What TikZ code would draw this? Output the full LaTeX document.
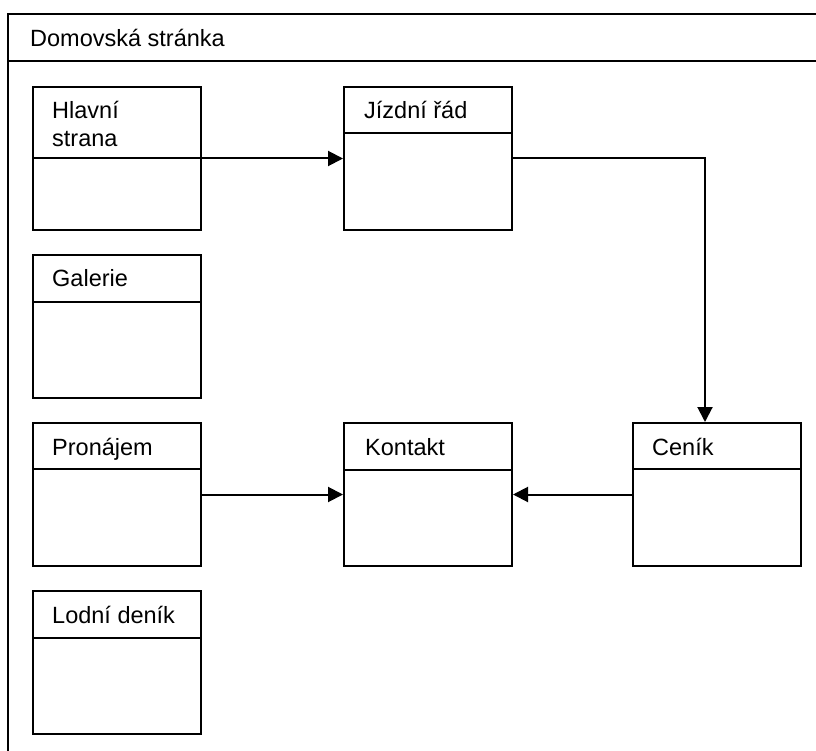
\documentclass[tikz,border=0pt]{standalone}
\usepackage{fontspec}
\setmainfont{Liberation Sans}
\usetikzlibrary{arrows.meta,calc}

\begin{document}
\begin{tikzpicture}[x=1pt, y=-1pt,
        page/.style = {draw, line width=2pt, rectangle, anchor=north west, inner sep=0pt, minimum width=168pt, minimum height=143pt},
        lbl/.style = {anchor=base west, inner sep=0pt, align=left, font=\fontsize{23.5}{28}\selectfont},
        sep/.style = {line width=2pt},
        ar/.style = {line width=2pt, -{Triangle[length=15pt, width=15pt]}}]
        \useasboundingbox (0,0) rectangle (816,751);

        % okno domovske stranky
        \draw[sep] (8,751) |- (816,14);
        \draw[sep] (8,61) -- (816,61);
        \node[lbl] (domov) at (30,47) {Domovská stránka};

        \node[page] (hlavni) at (32,86) {};
        \node[page] (galerie) at (32,254) {};
        \node[page] (pronajem) at (32,422) {};
        \node[page] (lodni) at (32,590) {};
        \node[page] (jizdni) at (343,86) {};
        \node[page] (kontakt) at (343,422) {};
        \node[page] (cenik) at (632,422) {};

        % hlavicky
        \draw[sep] ($(hlavni.north west)+(0,72)$) -- ($(hlavni.north east)+(0,72)$);
        \draw[sep] ($(galerie.north west)+(0,48)$) -- ($(galerie.north east)+(0,48)$);
        \draw[sep] ($(pronajem.north west)+(0,47)$) -- ($(pronajem.north east)+(0,47)$);
        \draw[sep] ($(lodni.north west)+(0,48)$) -- ($(lodni.north east)+(0,48)$);
        \draw[sep] ($(jizdni.north west)+(0,47)$) -- ($(jizdni.north east)+(0,47)$);
        \draw[sep] ($(kontakt.north west)+(0,48)$) -- ($(kontakt.north east)+(0,48)$);
        \draw[sep] ($(cenik.north west)+(0,47)$) -- ($(cenik.north east)+(0,47)$);

        \node[lbl] (t1) at (52,147) {Hlavní\\strana};
        \node[lbl] (t2) at (52,287) {Galerie};
        \node[lbl] (t3) at (52,455) {Pronájem};
        \node[lbl] (t4) at (52,623) {Lodní deník};
        \node[lbl] (t5) at (364,119) {Jízdní řád};
        \node[lbl] (t6) at (365,455) {Kontakt};
        \node[lbl] (t7) at (652,455) {Ceník};

        \draw[ar] (hlavni) -- (jizdni);
        \draw[ar] (jizdni.east) -| ([xshift=-12pt]cenik.north);
        \draw[ar] (pronajem) -- (kontakt);
        \draw[ar] (cenik) -- (kontakt);
    \end{tikzpicture}
\end{document}
